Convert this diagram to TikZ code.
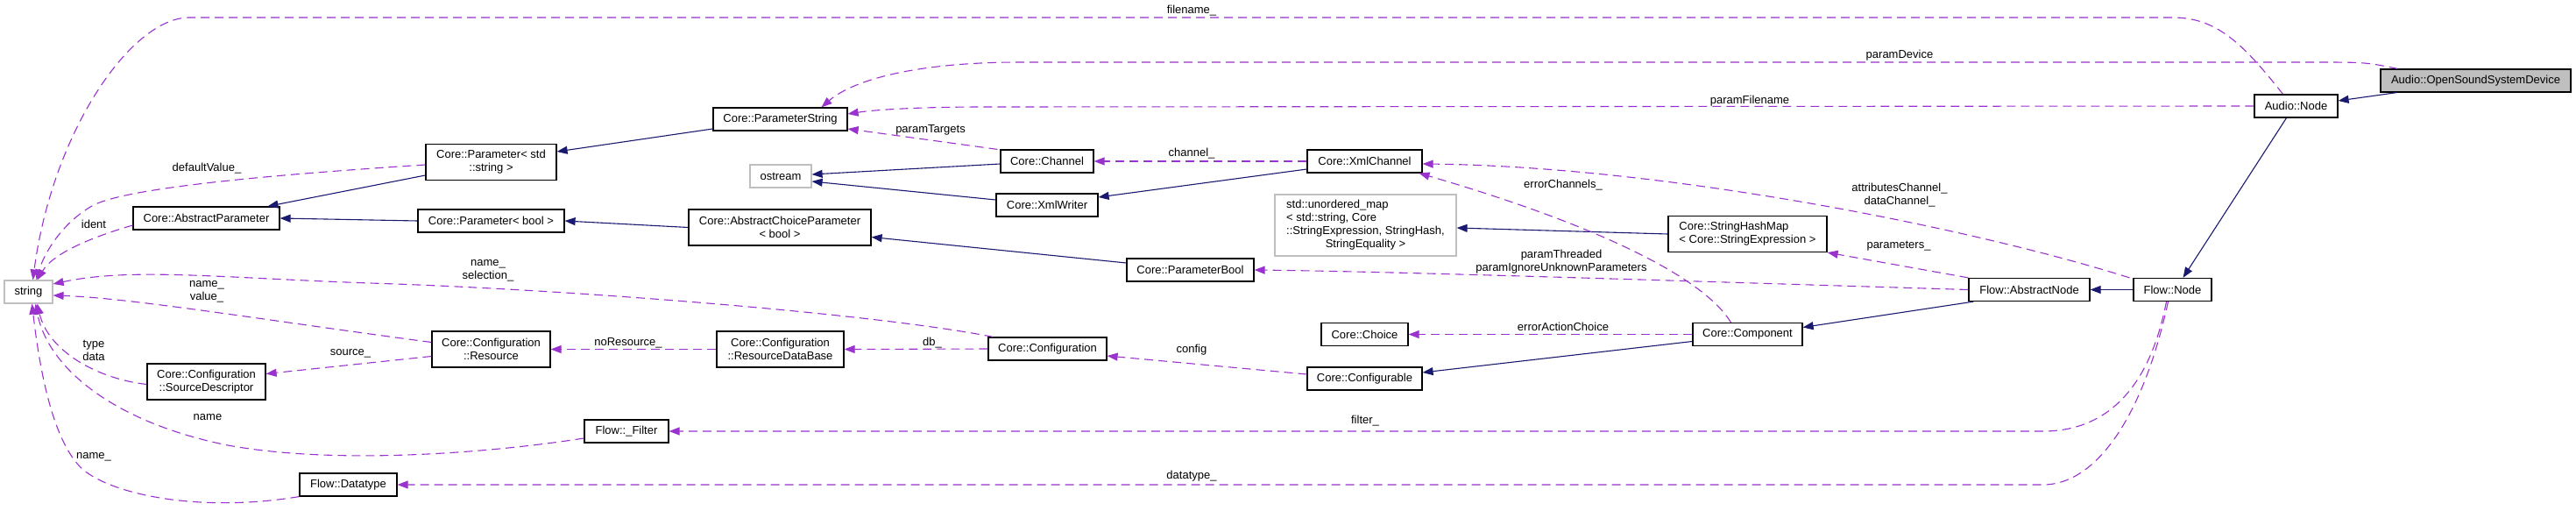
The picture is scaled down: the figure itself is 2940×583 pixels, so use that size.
\documentclass[tikz,border=0pt]{standalone}
\usepackage{fontspec}
\setmainfont{Liberation Sans}
\usepackage{xcolor}
\usetikzlibrary{arrows.meta,calc}

\definecolor{inhcol}{RGB}{25,25,112}
\definecolor{usecol}{RGB}{154,50,205}
\definecolor{extgray}{RGB}{191,191,191}

\begin{document}
\begin{tikzpicture}[x=1pt, y=-1pt, >={Triangle[length=12pt,width=9pt]},
  cls/.style={draw=black, line width=1.2pt, fill=white, inner sep=0pt, align=center, font=\fontsize{13}{15}\selectfont},
  ext/.style={cls, draw=extgray},
  lbl/.style={inner sep=0pt, align=center, font=\fontsize{13}{15}\selectfont},
  inh/.style={->, draw=inhcol, line width=1.1pt},
  usage/.style={->, draw=usecol, line width=1.1pt, dash pattern=on 10pt off 6pt}]

\useasboundingbox (0,0) rectangle (2940,583);

% Classes
\node[ext, minimum width=55, minimum height=26] (str) at (32.5,333) {string};
\node[cls, minimum width=167, minimum height=26] (absParam) at (235.5,249) {Core::AbstractParameter};
\node[cls, minimum width=135, minimum height=41] (srcDesc) at (235.5,435.5) {Core::Configuration\\::SourceDescriptor};
\node[cls, minimum width=111, minimum height=26] (datatype) at (397.5,553) {Flow::Datatype};
\node[cls, minimum width=149, minimum height=41] (paramStd) at (560.5,185) {Core::Parameter< std\\::string >};
\node[cls, minimum width=167, minimum height=26] (paramBool) at (560.5,252) {Core::Parameter< bool >};
\node[cls, minimum width=135, minimum height=41] (resource) at (560.5,398.5) {Core::Configuration\\::Resource};
\node[cls, minimum width=153, minimum height=26] (paramString) at (890.5,136) {Core::ParameterString};
\node[ext, minimum width=70, minimum height=26] (ostream) at (891,201) {ostream};
\node[cls, minimum width=208, minimum height=41] (choiceParam) at (890,259.5) {Core::AbstractChoiceParameter\\< bool >};
\node[cls, minimum width=145, minimum height=41] (resDB) at (890.5,398.5) {Core::Configuration\\::ResourceDataBase};
\node[cls, minimum width=96, minimum height=26] (filter) at (715,492) {Flow::\_Filter};
\node[cls, minimum width=106, minimum height=26] (channel) at (1195,184) {Core::Channel};
\node[cls, minimum width=116, minimum height=26] (xmlWriter) at (1195,234) {Core::XmlWriter};
\node[cls, minimum width=145, minimum height=26] (pBool) at (1358.5,308) {Core::ParameterBool};
\node[cls, minimum width=135, minimum height=26] (config) at (1195.5,398) {Core::Configuration};
\node[cls, minimum width=131, minimum height=26] (xmlChannel) at (1557.5,184) {Core::XmlChannel};
\node[ext, minimum width=207, minimum height=70] (uMap) at (1558.5,257) {\begin{tabular}{@{}l@{}}std::unordered\_map\\< std::string, Core\\::StringExpression, StringHash,\\\multicolumn{1}{@{}c@{}}{StringEquality >}\end{tabular}};
\node[cls, minimum width=99, minimum height=26] (choice) at (1557.5,381.5) {Core::Choice};
\node[cls, minimum width=131, minimum height=26] (configurable) at (1557.5,432) {Core::Configurable};
\node[cls, minimum width=181, minimum height=41, align=left] (shMap) at (1994.5,267) {Core::StringHashMap\\< Core::StringExpression >};
\node[cls, minimum width=125, minimum height=26] (component) at (1994.5,381.5) {Core::Component};
\node[cls, minimum width=138, minimum height=26] (absNode) at (2316,330.5) {Flow::AbstractNode};
\node[cls, minimum width=89, minimum height=26] (flowNode) at (2479.5,330.5) {Flow::Node};
\node[cls, minimum width=95, minimum height=26] (audioNode) at (2620.5,121) {Audio::Node};
\node[cls, fill=extgray, minimum width=217, minimum height=26] (ossd) at (2825.5,92) {Audio::OpenSoundSystemDevice};

% Inheritance
\draw[inh] ([yshift=-15pt]paramStd.west) -- ([xshift=70pt]absParam.north);
\draw[inh] (paramBool.west) -- (absParam.east);
\draw[inh] ([yshift=-11pt]paramString.west) -- ([yshift=12pt]paramStd.east);
\draw[inh] ([yshift=-3pt]channel.west) -- ([yshift=2pt]ostream.east);
\draw[inh] ([yshift=6pt]xmlWriter.west) -- ([yshift=-6pt]ostream.east);
\draw[inh] (choiceParam.west) -- (paramBool.east);
\draw[inh] ([yshift=8pt]pBool.west) -- ([yshift=-11pt]choiceParam.east);
\draw[inh] ([yshift=-9pt]xmlChannel.west) -- ([yshift=9pt]xmlWriter.east);
\draw[inh] (shMap.west) -- ([yshift=-3pt]uMap.east);
\draw[inh] ([yshift=-8pt]component.west) -- ([yshift=7pt]configurable.east);
\draw[inh] ([xshift=6pt]absNode.south west) -- ([yshift=8pt]component.east);
\draw[inh] (flowNode.west) -- (absNode.east);
\draw[inh] ([xshift=-11pt]audioNode.south) -- ([xshift=12pt]flowNode.north);
\draw[inh] ([xshift=19pt]ossd.south west) -- ([yshift=6pt]audioNode.east);

% Members into string
\draw[usage] ([xshift=-15pt]audioNode.north) .. controls (2560,50) and (2530,20) .. (2480,20) -- (216,20) .. controls (150,20) and (60,150) .. ([xshift=5pt]str.north);
\draw[usage] ([yshift=-3pt]paramStd.west) .. controls (300,200) and (140,215) .. (105,235) .. controls (70,255) and (50,290) .. ([xshift=9pt]str.north);
\draw[usage] ([yshift=-8pt]absParam.west) .. controls (100,272) and (60,290) .. ([xshift=10pt]str.north);
\draw[usage] ([xshift=6pt]config.north west) .. controls (1000,358) and (650,330) .. (422,323) .. controls (250,317) and (150,305) .. ([yshift=9pt]str.east);
\draw[usage] ([yshift=8pt]resource.west) .. controls (300,365) and (150,340) .. ([yshift=-4pt]str.east);
\draw[usage] ([yshift=-3pt]srcDesc.west) .. controls (110,432) and (55,400) .. ([xshift=10pt]str.south);
\draw[usage] ([yshift=-8pt]filter.west) .. controls (550,518) and (380,530) .. (260,508) .. controls (130,482) and (55,420) .. ([xshift=8pt]str.south);
\draw[usage] (datatype.south west) .. controls (230,585) and (130,565) .. (95,536) .. controls (60,505) and (45,420) .. ([xshift=4pt]str.south);

% Other members
\draw[usage] ([xshift=20pt]ossd.north west) .. controls (2700,71) .. (2640,71) -- (1163,71) .. controls (1050,71) and (975,90) .. ([xshift=47pt]paramString.north);
\draw[usage] (audioNode.west) -- (1125,122) .. controls (1050,122) and (1000,125) .. ([yshift=6pt]paramString.east);
\draw[usage] ([xshift=-3pt]channel.north west) -- ([yshift=-11pt]paramString.east);
\draw[usage] (xmlChannel.west) -- (channel.east);
\draw[usage] ([yshift=-8pt]resource.west) -- ([yshift=9pt]srcDesc.east);
\draw[usage] (resDB.west) -- (resource.east);
\draw[usage] (config.west) -- (resDB.east);
\draw[usage] ([yshift=5pt]configurable.west) -- ([yshift=-8pt]config.east);
\draw[usage] ([xshift=-7pt]flowNode.south) .. controls (2450,460) and (2390,492) .. (2332,492) -- (filter.east);
\draw[usage] ([xshift=-5pt]flowNode.south) .. controls (2445,480) and (2390,553) .. (2332,553) -- (datatype.east);
\draw[usage] (component.west) -- (choice.east);
\draw[usage] ([xshift=-19pt]component.north) .. controls (1940,310) and (1800,250) .. ([xshift=62pt]xmlChannel.south);
\draw[usage] ([xshift=-4pt]flowNode.north west) .. controls (2250,260) and (1900,190) .. ([yshift=-3pt]xmlChannel.east);
\draw[usage] (absNode.north west) -- (shMap.south east);
\draw[usage] (absNode.west) .. controls (1900,320) and (1600,310) .. (pBool.east);

% Labels
\node[lbl] (lFilename) at (1360,12) {filename\_};
\node[lbl] (lParamDevice) at (2168,63) {paramDevice};
\node[lbl] (lParamFilename) at (1997,115) {paramFilename};
\node[lbl] (lParamTargets) at (1062,148) {paramTargets};
\node[lbl] (lChannel) at (1360,175) {channel\_};
\node[lbl] (lDefault) at (236,192) {defaultValue\_};
\node[lbl] (lIdent) at (107,256) {ident};
\node[lbl] (lNameSel) at (557,309) {name\_\\selection\_};
\node[lbl] (lNameVal) at (236,333) {name\_\\value\_};
\node[lbl] (lTypeData) at (107,400) {type\\data};
\node[lbl] (lSource) at (400,403) {source\_};
\node[lbl] (lName) at (237,476) {name};
\node[lbl] (lNameDt) at (107,521) {name\_};
\node[lbl] (lNoRes) at (717,391) {noResource\_};
\node[lbl] (lDb) at (1064,391) {db\_};
\node[lbl] (lConfig) at (1360,399) {config};
\node[lbl] (lFilter) at (1558,480) {filter\_};
\node[lbl] (lDatatype) at (1360,543) {datatype\_};
\node[lbl] (lErrAction) at (1784,373) {errorActionChoice};
\node[lbl] (lErrChan) at (1784,211) {errorChannels\_};
\node[lbl] (lAttr) at (2168,223) {attributesChannel\_\\dataChannel\_};
\node[lbl] (lParams) at (2167,281) {parameters\_};
\node[lbl] (lThreaded) at (1782,299) {paramThreaded\\paramIgnoreUnknownParameters};

\end{tikzpicture}
\end{document}
